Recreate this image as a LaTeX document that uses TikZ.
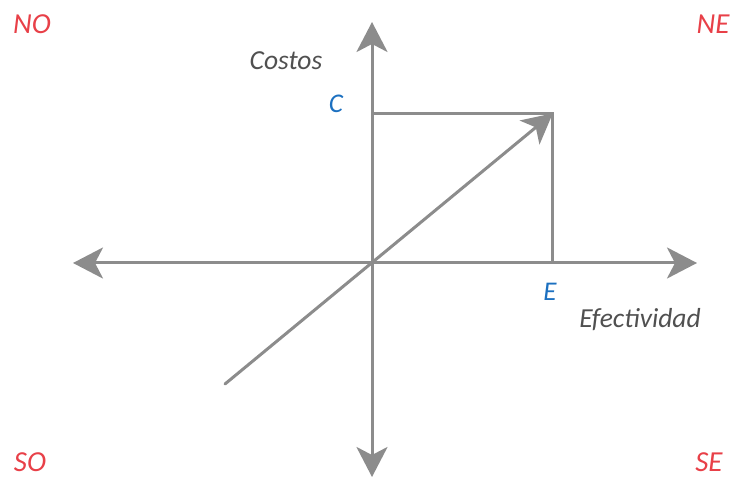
\documentclass[tikz,border=0pt]{standalone}
\usepackage{fontspec}
\setmainfont{Carlito}
\usepackage{tikz}
\usetikzlibrary{arrows.meta}
\usepackage{xcolor}
\definecolor{axisgray}{RGB}{140,140,140}
\definecolor{quadred}{RGB}{232,64,72}
\definecolor{valblue}{RGB}{28,112,192}
\definecolor{labgray}{RGB}{80,80,80}

\begin{document}
\begin{tikzpicture}[x=1pt, y=-1pt, >={Stealth[length=30pt, width=31pt, inset=8pt]},
    quad/.style={anchor=base, inner sep=0pt, text=quadred, font=\fontsize{29}{33}\selectfont\itshape},
    axlab/.style={anchor=base, inner sep=0pt, text=labgray, font=\fontsize{27.5}{31}\selectfont\itshape},
    val/.style={anchor=base, inner sep=0pt, text=valblue, font=\fontsize{27}{31}\selectfont\itshape}]
    \useasboundingbox (0,0) rectangle (731,478);
    % axes
    \coordinate (O) at (372,263);
    \coordinate (W) at (73,263);
    \coordinate (Ea) at (697,263);
    \coordinate (N) at (372,22);
    \coordinate (S) at (372,477);
    \coordinate (tail) at (225,384);
    \coordinate (P) at (552,114);
    \draw[->, line width=3pt, axisgray] (O) -- (W);
    \draw[->, line width=3pt, axisgray] (O) -- (Ea);
    \draw[->, line width=3pt, axisgray] (O) -- (N);
    \draw[->, line width=3pt, axisgray] (O) -- (S);
    \draw[line width=3pt, axisgray] (372,114) -- (P) -- (552,263);
    \draw[->, line width=3pt, axisgray, line cap=round, shorten >=-1pt] (tail) -- (P);
    % labels
    \node[axlab] (costos) at (286,70) {Costos};
    \node[axlab] (efect) at (640,328) {Efectividad};
    \node[val] (c) at (336,113) {C};
    \node[val] (e) at (550,301) {E};
    \node[quad] (no) at (32,34) {NO};
    \node[quad] (ne) at (713,34) {NE};
    \node[quad] (so) at (30,471) {SO};
    \node[quad] (se) at (709,471) {SE};
\end{tikzpicture}
\end{document}
